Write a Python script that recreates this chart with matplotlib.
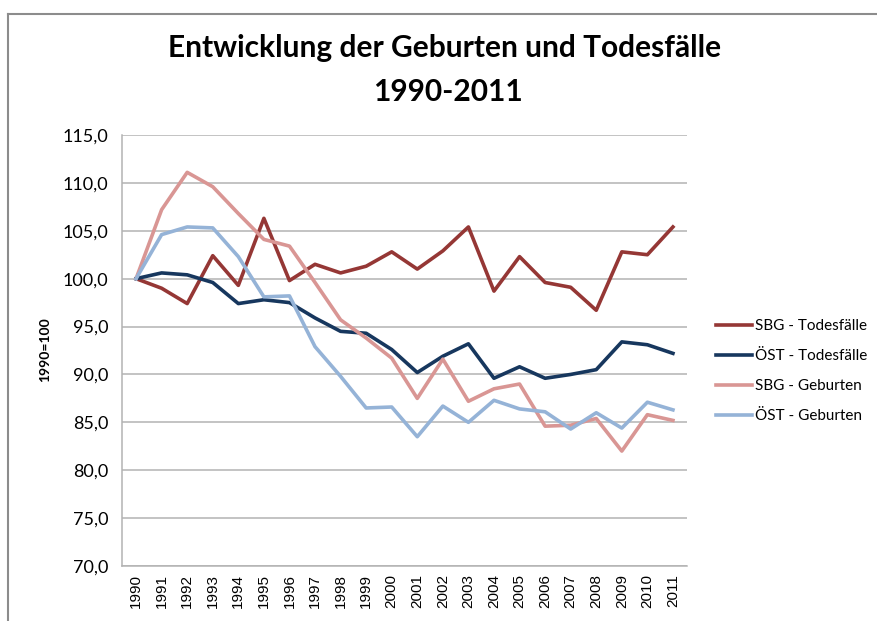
import matplotlib.pyplot as plt
from matplotlib.lines import Line2D
from matplotlib.ticker import FuncFormatter

years = list(range(1990, 2012))
year_labels = [str(y) for y in years]

sbg_tod = [100.0, 99.0, 97.4, 102.4, 99.3, 106.3, 99.8, 101.5, 100.6, 101.3, 102.8,
           101.0, 102.9, 105.4, 98.7, 102.3, 99.6, 99.1, 96.7, 102.8, 102.5, 105.4]
oest_tod = [100.0, 100.6, 100.4, 99.6, 97.4, 97.8, 97.5, 95.9, 94.5, 94.3, 92.6,
            90.2, 91.9, 93.2, 89.6, 90.8, 89.6, 90.0, 90.5, 93.4, 93.1, 92.2]
sbg_geb = [100.0, 107.2, 111.1, 109.6, 106.8, 104.1, 103.4, 99.6, 95.7, 93.8, 91.7,
           87.5, 91.6, 87.2, 88.5, 89.0, 84.6, 84.7, 85.4, 82.0, 85.8, 85.2]
oest_geb = [100.0, 104.6, 105.4, 105.3, 102.3, 98.1, 98.2, 92.9, 89.8, 86.5, 86.6,
            83.5, 86.7, 85.0, 87.3, 86.4, 86.1, 84.3, 86.0, 84.4, 87.1, 86.3]

series = [
    ("SBG - Todesfälle", sbg_tod, "#953735"),
    ("ÖST - Todesfälle", oest_tod, "#17375E"),
    ("SBG - Geburten", sbg_geb, "#D99694"),
    ("ÖST - Geburten", oest_geb, "#95B3D7"),
]

fig = plt.figure(figsize=(8.77, 6.21), dpi=100)
ax = fig.add_axes((122 / 877, 1 - 566 / 621, 565 / 877, 431 / 621))

for name, vals, col in series:
    ax.plot(range(len(years)), vals, color=col, lw=2.6, label=name)

ax.set_ylim(70, 115)
ax.set_yticks(range(70, 116, 5))
ax.yaxis.set_major_formatter(FuncFormatter(lambda v, p: f"{v:.1f}".replace(".", ",")))
ax.set_xlim(-0.55, len(years) - 0.45)
ax.set_xticks(range(len(years)))
ax.set_xticklabels(year_labels, rotation=90, fontsize=11, family="Liberation Sans")
for t in ax.get_yticklabels():
    t.set_family("Lato")
    t.set_fontsize(13)
ax.tick_params(axis="y", length=0, pad=10)
ax.tick_params(axis="x", length=0, pad=6)

ax.grid(axis="y", color="#b3b3b3", lw=1.1)
ax.set_axisbelow(True)
for s in ["top", "right"]:
    ax.spines[s].set_visible(False)
for s in ["left", "bottom"]:
    ax.spines[s].set_color("#b3b3b3")
    ax.spines[s].set_linewidth(1.1)

fig.text(45 / 877, 1 - 350 / 621, "1990=100", rotation=90, ha="center", va="center",
         fontsize=10, fontweight="bold", family="Lato")

fig.text(445 / 877, 1 - 48 / 621, "Entwicklung der Geburten und Todesfälle",
         ha="center", va="center", fontsize=21.5, fontweight="bold", family="Lato")
fig.text(448 / 877, 1 - 92 / 621, "1990-2011",
         ha="center", va="center", fontsize=21.5, fontweight="bold", family="Lato")

handles = [Line2D([], [], color=c, lw=2.6) for _, _, c in series]
fig.legend(handles, [n for n, _, _ in series], loc="center left",
           bbox_to_anchor=(702 / 877, 1 - 371 / 621), frameon=False,
           prop={"family": "Lato", "size": 11}, handlelength=2.4, handletextpad=0.2,
           labelspacing=1.05)

fig.add_artist(Line2D([8 / 877, 1], [1 - 14 / 621, 1 - 14 / 621], color="#8c8c8c", lw=1.5))
fig.add_artist(Line2D([8 / 877, 8 / 877], [0, 1 - 14 / 621], color="#8c8c8c", lw=1.5))

fig.savefig("out.png", dpi=100)
